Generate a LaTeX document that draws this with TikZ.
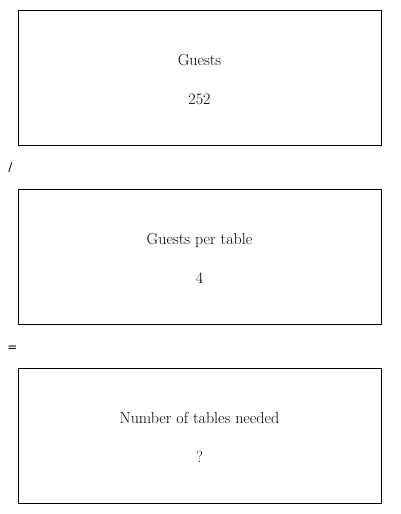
\documentclass[tikz,border=0pt]{standalone}
\usepackage{fontspec}
\newfontfamily\opfont{DejaVu Sans}
\begin{document}
\begin{tikzpicture}[x=1pt,y=-1pt,
  box/.style={draw=black,line width=1pt,minimum width=363pt,minimum height=135pt,anchor=north west,inner sep=0pt},
  txt/.style={anchor=base,inner sep=0pt,font=\fontsize{16}{19}\selectfont},
  op/.style={anchor=center,inner sep=0pt,font=\opfont\fontsize{12}{14}\selectfont}]
\useasboundingbox (0,0) rectangle (400,514);
\node[box] (b1) at (17.8,9.8) {};
\node[box] (b2) at (17.8,188.8) {};
\node[box] (b3) at (17.8,367.8) {};
\node[txt] (t1) at (199.5,65) {Guests};
\node[txt] (v1) at (199.5,104) {252};
\node[txt] (t2) at (199.5,244) {Guests per table};
\node[txt] (v2) at (199.5,283) {4};
\node[txt] (t3) at (199.5,423) {Number of tables needed};
\node[txt] (v3) at (199.5,462) {?};
\node[op] (o1) at (10.5,167.5) {/};
\node[op] (o2) at (12.5,348.5) {=};
\end{tikzpicture}
\end{document}
